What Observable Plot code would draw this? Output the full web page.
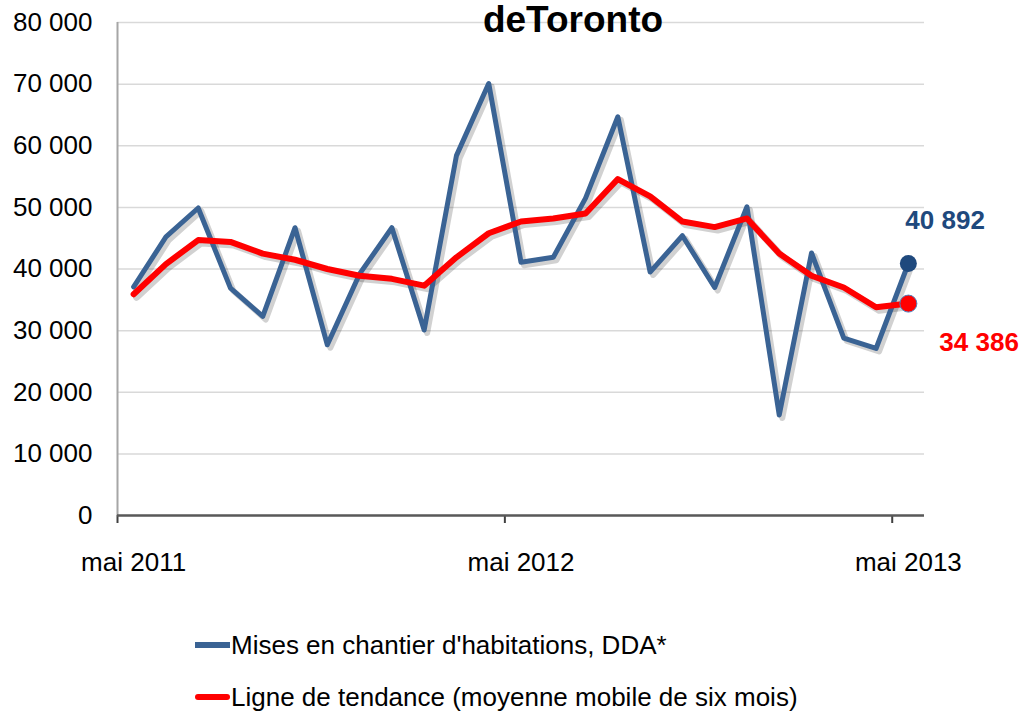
<!DOCTYPE html>
<html>
<head>
<meta charset="utf-8">
<script src="https://cdn.jsdelivr.net/npm/d3@7"></script>
<script src="https://cdn.jsdelivr.net/npm/@observablehq/plot@0.6"></script>
<style>
  html, body { margin: 0; padding: 0; background: #fff; }
  #wrap { position: relative; width: 1019px; height: 714px; overflow: hidden; font-family: "Liberation Sans", Arial, sans-serif; }
  #chart { position: absolute; left: 0; top: 0; }
  .leg { position: absolute; left: 195px; display: flex; align-items: center; font-size: 26px; color: #000; height: 30px; white-space: nowrap; }
  .sw { width: 35px; height: 6px; margin-right: 1px; }
</style>
</head>
<body>
<div id="wrap">
  <div id="chart"></div>
  <div class="leg" style="top:630px"><span class="sw" style="background:#3a6394"></span>Mises en chantier d'habitations, DDA*</div>
  <div class="leg" style="top:682px"><span class="sw" style="background:#ff0000;border-radius:3px"></span>Ligne de tendance (moyenne mobile de six mois)</div>
</div>
<script>
const months = ["mai 2011","juin 2011","juil 2011","août 2011","sept 2011","oct 2011","nov 2011","déc 2011","janv 2012","févr 2012","mars 2012","avr 2012",
  "mai 2012","juin 2012","juil 2012","août 2012","sept 2012","oct 2012","nov 2012","déc 2012","janv 2013","févr 2013","mars 2013","avr 2013","mai 2013"];
const starts = [37100,45200,49900,36900,32300,46700,27700,39200,46700,30100,58400,70100,
  41100,41900,51500,64700,39500,45400,37000,50100,16300,42600,28800,27100,40892];
const trend = [35900,40800,44700,44400,42500,41500,40000,38900,38400,37300,41900,45800,
  47700,48200,49000,54600,51800,47700,46800,48200,42500,38900,37000,33800,34386];
const yTicks = [0,10000,20000,30000,40000,50000,60000,70000,80000];
const xLabelIdx = [0, 12, 24];
const xLabels = ["mai 2011", "mai 2012", "mai 2013"];
const xTickIdx = [-0.5, 11.5, 23.5];
const title = "deToronto";

const rows = months.map((m, i) => ({i, month: m, starts: starts[i], trend: trend[i]}));
const last = rows[rows.length - 1];
const fmt = v => d3.format(",")(v).replace(/,/g, " ");

const chart = Plot.plot({
  width: 1019,
  height: 600,
  marginLeft: 117,
  marginRight: 95,
  marginTop: 22,
  marginBottom: 85,
  style: {fontFamily: "'Liberation Sans', Arial, sans-serif", fontSize: "26px", color: "#000", background: "#fff", overflow: "visible"},
  x: {domain: [-0.5, 24.5]},
  y: {domain: [0, 80000]},
  marks: [
    Plot.ruleY(yTicks, {stroke: "#d9d9d9", strokeWidth: 1.5}),
    Plot.ruleX([-0.5], {stroke: "#a6a6a6", strokeWidth: 2}),
    Plot.axisY({ticks: yTicks, tickSize: 0, tickPadding: 25, tickFormat: fmt, fontSize: 26, label: null}),
    Plot.axisX({ticks: xTickIdx, tickSize: 8, tickFormat: () => "", stroke: "#404040", strokeWidth: 2, label: null}),
    Plot.axisX({ticks: xLabelIdx, tickSize: 0, tickPadding: 37, tickFormat: (d) => xLabels[xLabelIdx.indexOf(d)], fontSize: 26, label: null}),
    Plot.ruleY([0], {stroke: "#595959", strokeWidth: 2.5}),
    // soft shadows
    Plot.line(rows, {x: "i", y: "starts", stroke: "#000", strokeOpacity: 0.18, strokeWidth: 6, dx: 3, dy: 3, strokeLinejoin: "round"}),
    Plot.line(rows, {x: "i", y: "trend", stroke: "#000", strokeOpacity: 0.18, strokeWidth: 7, dx: 3, dy: 3, strokeLinejoin: "round", strokeLinecap: "round"}),
    Plot.line(rows, {x: "i", y: "starts", stroke: "#3a6394", strokeWidth: 5, strokeLinejoin: "round"}),
    Plot.line(rows, {x: "i", y: "trend", stroke: "#ff0000", strokeWidth: 6, strokeLinejoin: "round", strokeLinecap: "round"}),
    Plot.dot([last], {x: "i", y: "starts", r: 8.5, fill: "#1f497d"}),
    Plot.dot([last], {x: "i", y: "trend", r: 8.5, fill: "#ff0000", stroke: "#4f81bd", strokeWidth: 1}),
    Plot.text([last], {x: "i", y: "starts", text: d => fmt(d.starts), textAnchor: "start", dx: -3, dy: -43, fill: "#1f497d", fontWeight: "bold", fontSize: 26}),
    Plot.text([last], {x: "i", y: "trend", text: d => fmt(d.trend), textAnchor: "start", dx: 31, dy: 39, fill: "#ff0000", fontWeight: "bold", fontSize: 26}),
    Plot.text([title], {frameAnchor: "top", dx: 52, dy: 9, lineAnchor: "bottom", fontWeight: "bold", fontSize: 37, fill: "#000"})
  ]
});
document.getElementById("chart").appendChild(chart);
</script>
</body>
</html>
